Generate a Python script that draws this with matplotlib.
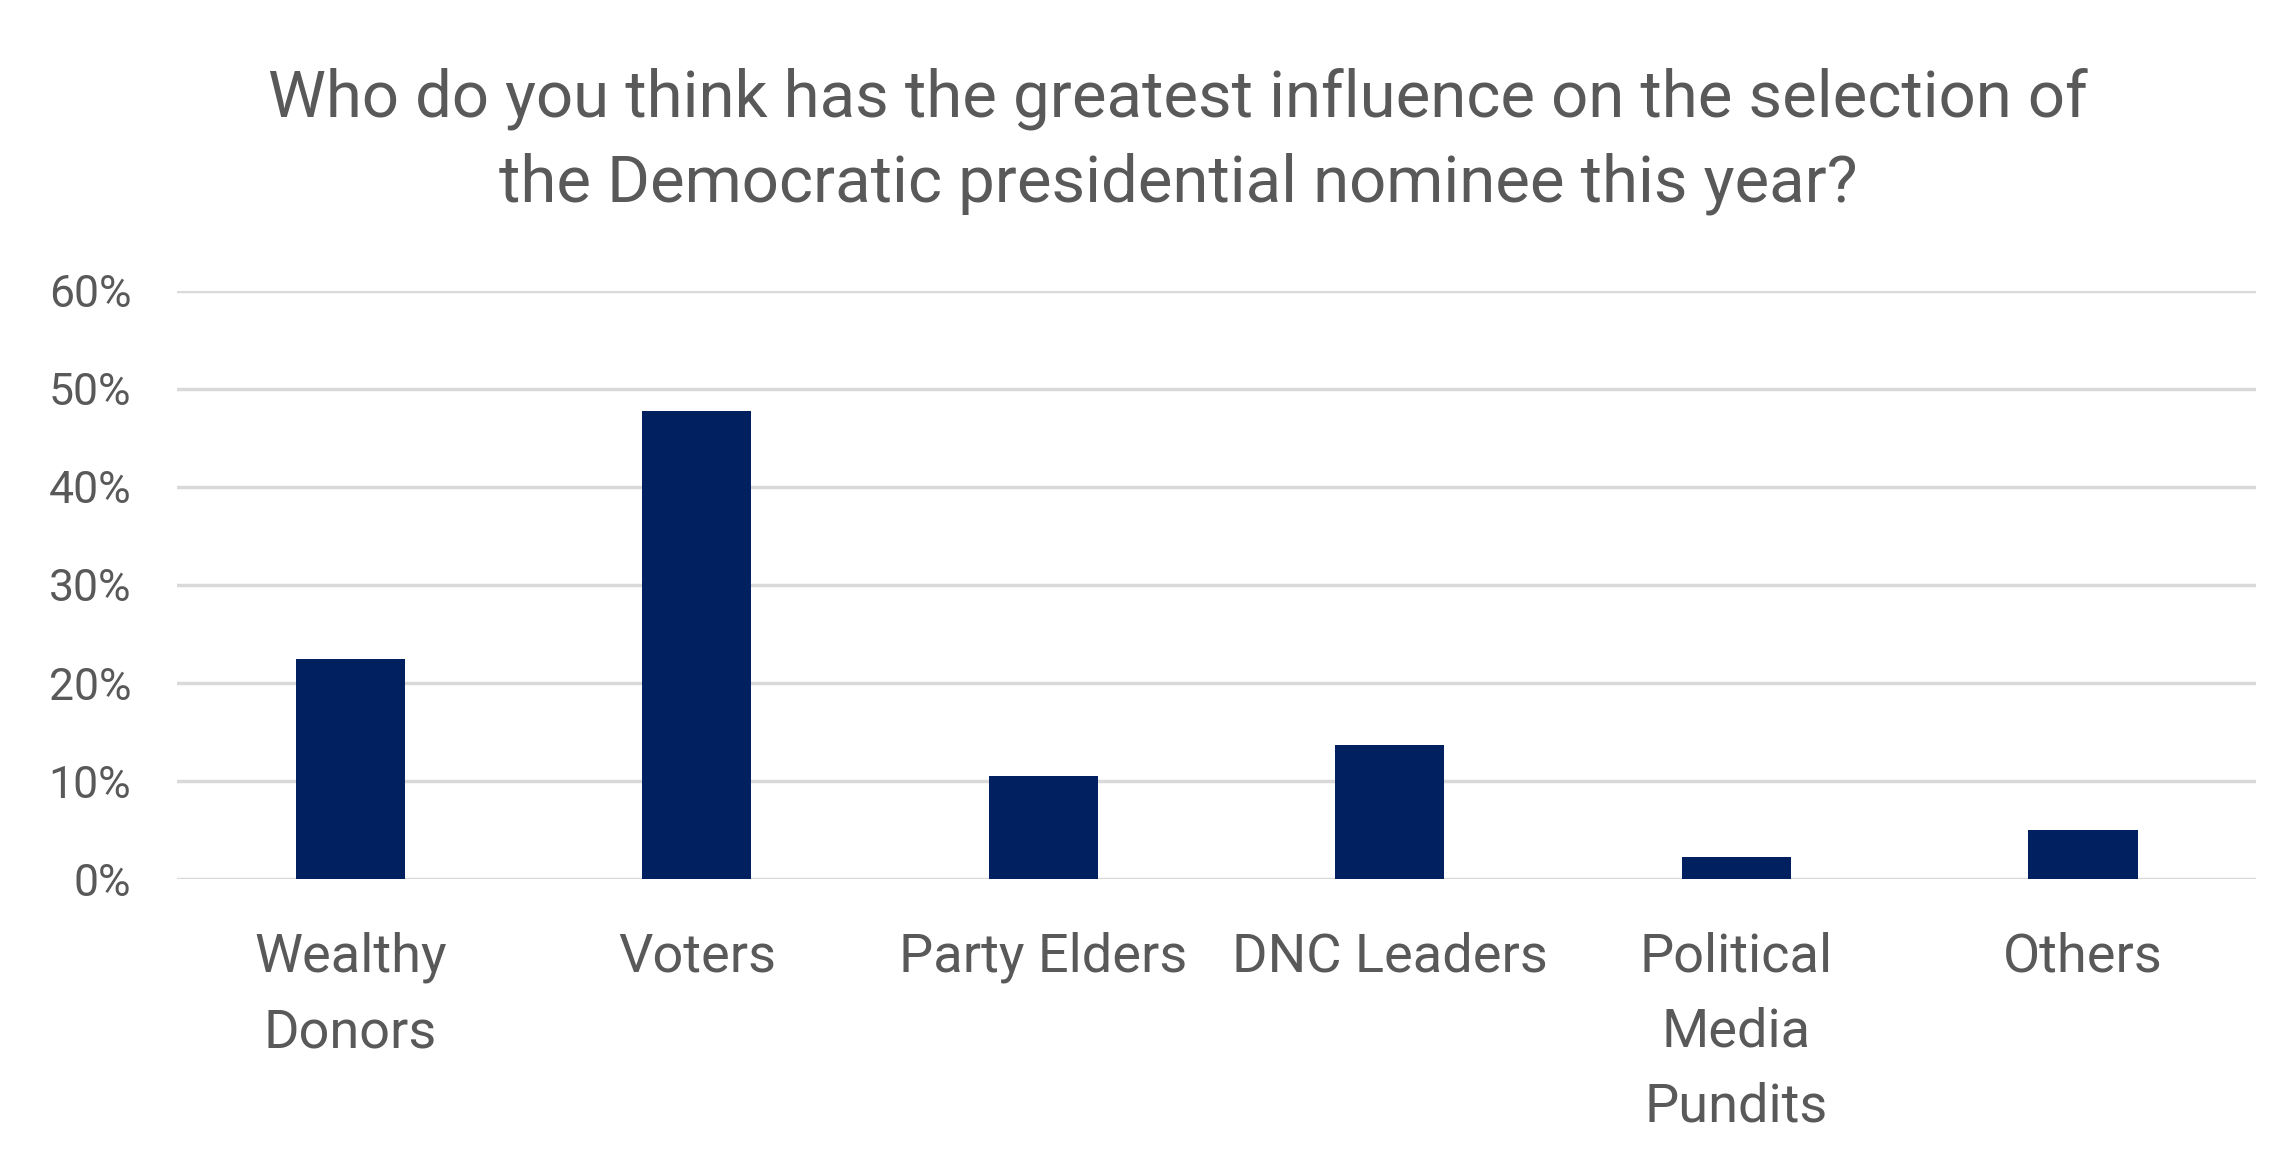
import matplotlib
matplotlib.use('Agg')
import matplotlib.pyplot as plt
from matplotlib.ticker import PercentFormatter

# Survey responses
categories = ['Wealthy\nDonors', 'Voters', 'Party Elders', 'DNC Leaders',
              'Political\nMedia\nPundits', 'Others']
shares = [0.224, 0.478, 0.105, 0.137, 0.022, 0.050]
yticks = [0.0, 0.1, 0.2, 0.3, 0.4, 0.5, 0.6]

title = ('Who do you think has the greatest influence on the selection of\n'
         'the Democratic presidential nominee this year?')

text_color = '#595959'
bar_color = '#002060'
grid_color = '#D9D9D9'

plt.rcParams['font.family'] = ['Roboto', 'DejaVu Sans']

fig = plt.figure(figsize=(22.79, 11.68), dpi=100)
ax = fig.add_axes([0.0777, 0.2474, 0.9123, 0.5035])

x = range(len(categories))
ax.bar(x, shares, width=0.315, color=bar_color, zorder=3)

ax.set_xlim(-0.5, len(categories) - 0.5)
ax.set_ylim(0, 0.6)
ax.set_yticks(yticks)
ax.yaxis.set_major_formatter(PercentFormatter(1.0, decimals=0))
ax.grid(axis='y', color=grid_color, linewidth=2.5, zorder=0)

ax.set_xticks(list(x))
ax.set_xticklabels(categories, fontsize=39, color=text_color,
                   linespacing=1.6, va='top')
ax.tick_params(axis='x', length=0, pad=38)
ax.tick_params(axis='y', length=0, pad=33, labelsize=32, labelcolor=text_color)

for side in ['top', 'right', 'left', 'bottom']:
    ax.spines[side].set_visible(False)

fig.text(0.517, 0.879, title, ha='center', va='center', fontsize=47,
         color=text_color, linespacing=1.45)

fig.savefig('out.png', dpi=100, facecolor='white')
